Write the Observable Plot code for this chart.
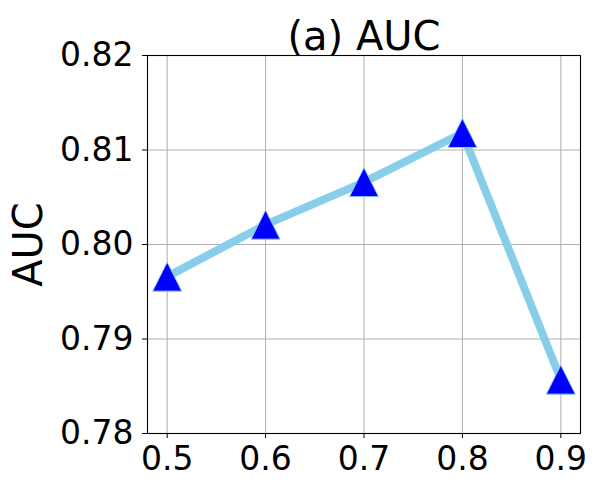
<!DOCTYPE html>
<html>
<head>
<meta charset="utf-8">
<script src="https://cdn.jsdelivr.net/npm/d3@7"></script>
<script src="https://cdn.jsdelivr.net/npm/@observablehq/plot@0.6"></script>
<style>
  html, body { margin: 0; padding: 0; background: white; }
</style>
</head>
<body>
<div id="chart"></div>
<script>
const ratios = [0.5, 0.6, 0.7, 0.8, 0.9];
const aucValues = [0.7966, 0.8021, 0.8066, 0.8118, 0.7857];
const xTicks = [0.5, 0.6, 0.7, 0.8, 0.9];
const yTicks = [0.78, 0.79, 0.80, 0.81, 0.82];
const titleText = "(a) AUC";
const yLabel = "AUC";

const data = ratios.map((r, i) => ({ratio: r, auc: aucValues[i]}));

// matplotlib-style '^' marker: equal width and height, centered on the point
const triangle = {
  draw(context, size) {
    const h = Math.sqrt(size / Math.PI);
    context.moveTo(0, -h);
    context.lineTo(h, h);
    context.lineTo(-h, h);
    context.closePath();
  }
};

const chart = Plot.plot({
  width: 600,
  height: 490,
  marginTop: 55,
  marginBottom: 57,
  marginLeft: 147,
  marginRight: 20,
  style: {fontFamily: "DejaVu Sans", fontSize: "33px", background: "white", color: "black"},
  x: {domain: [0.48, 0.92]},
  y: {domain: [0.78, 0.82]},
  marks: [
    Plot.gridX(xTicks, {stroke: "#b0b0b0", strokeOpacity: 1, strokeWidth: 1}),
    Plot.gridY(yTicks, {stroke: "#b0b0b0", strokeOpacity: 1, strokeWidth: 1}),
    Plot.axisX(xTicks, {tickSize: 5, tickPadding: 8, fontSize: 33, label: null, tickFormat: d3.format(".1f")}),
    Plot.axisY(yTicks, {tickSize: 5, tickPadding: 9, fontSize: 33, label: null, tickFormat: d3.format(".2f")}),
    Plot.line(data, {x: "ratio", y: "auc", stroke: "#87CEEB", strokeWidth: 8}),
    Plot.dot(data, {x: "ratio", y: "auc", symbol: triangle, r: 14.5, fill: "blue", stroke: "#87CEEB", strokeWidth: 1}),
    Plot.frame({stroke: "black", strokeWidth: 1.1}),
    Plot.text([titleText], {text: d => d, frameAnchor: "top", lineAnchor: "bottom", dy: -6, fontSize: 40}),
    Plot.text([yLabel], {text: d => d, frameAnchor: "left", rotate: -90, lineAnchor: "middle", textAnchor: "middle", dx: -118, fontSize: 40})
  ]
});
document.getElementById("chart").appendChild(chart);
</script>
</body>
</html>
